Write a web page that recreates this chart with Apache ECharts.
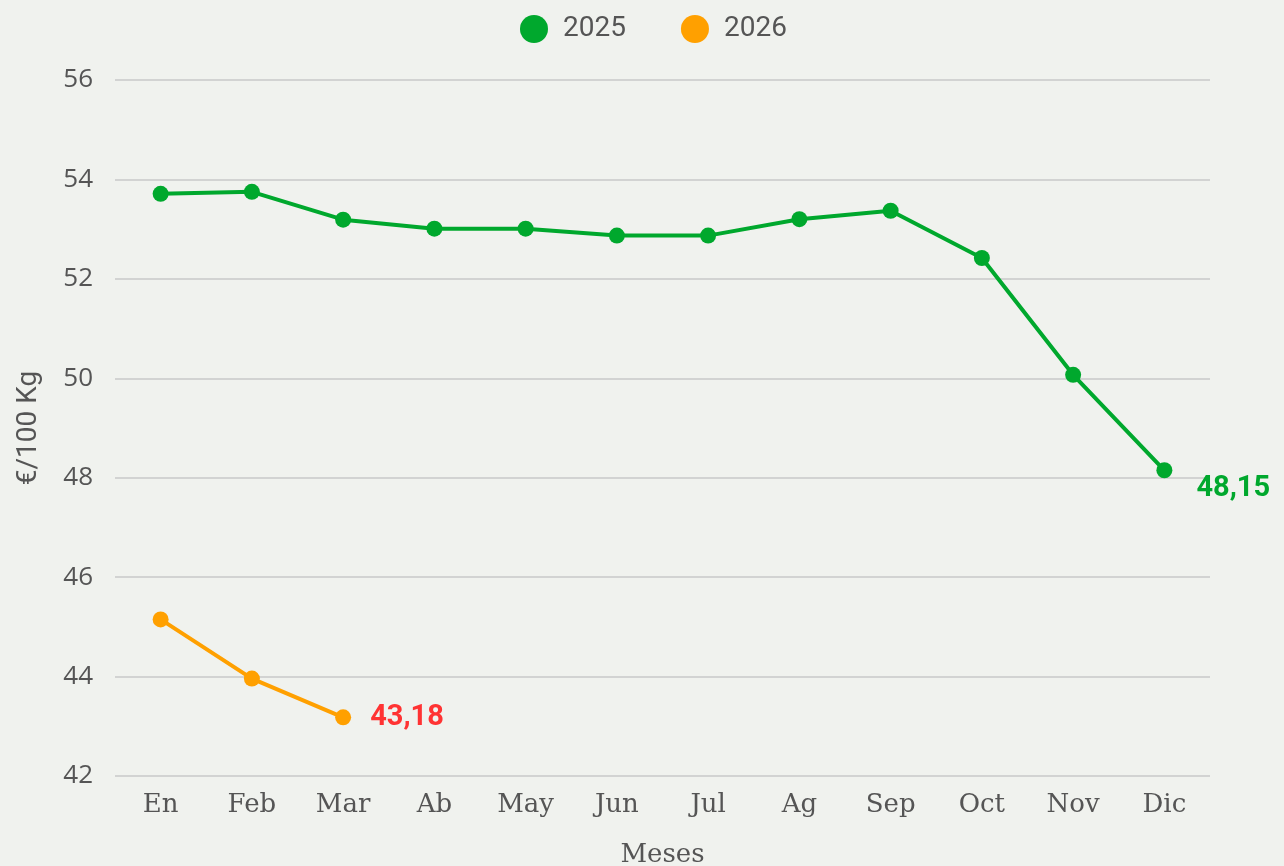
<!DOCTYPE html>
<html>
<head>
<meta charset="utf-8">
<script src="https://cdn.jsdelivr.net/npm/echarts@6/dist/echarts.min.js"></script>
<style>
    html, body { margin: 0; padding: 0; background: #f0f2ee; }
    #chart { width: 1284px; height: 866px; }
</style>
</head>
<body>
<div id="chart"></div>
<script>
// meses y precios (€/100 Kg)
const months = ['En', 'Feb', 'Mar', 'Ab', 'May', 'Jun', 'Jul', 'Ag', 'Sep', 'Oct', 'Nov', 'Dic']
const values2025 = [53.71, 53.75, 53.19, 53.01, 53.01, 52.87, 52.87, 53.20, 53.37, 52.42, 50.07, 48.15]
const values2026 = [45.15, 43.96, 43.18]
const yTicks = [42, 44, 46, 48, 50, 52, 54, 56]

const green = '#00a82d'
const orange = '#ffa000'
const slab = '"DejaVu Serif", serif'

const chart = echarts.init(document.getElementById('chart'))

// etiqueta solo en el ultimo punto de cada serie
function lastLabel(arr, color, distance, offset) {
    return arr.map((v, i) => i === arr.length - 1
        ? { value: v, label: { show: true, position: 'right', distance: distance, offset: offset, color: color,
            fontFamily: 'Roboto', fontWeight: 'bold', fontSize: 29,
            formatter: p => p.value.toFixed(2).replace('.', ',') } }
        : v)
}

chart.setOption({
    backgroundColor: '#f0f2ee',
    animation: false,
    legend: {
        top: 10,
        left: 515,
        itemWidth: 28,
        itemHeight: 28,
        itemGap: 55,
        icon: 'circle',
        textStyle: { fontFamily: 'Roboto', fontSize: 28, color: '#555', padding: [0, 0, 0, 10] },
        data: ['2025', '2026']
    },
    grid: { left: 115, right: 74, top: 80, bottom: 90, outerBoundsMode: 'none' },
    xAxis: {
        type: 'category',
        data: months,
        name: 'Meses',
        nameLocation: 'middle',
        nameGap: 66,
        nameTextStyle: { fontFamily: slab, fontSize: 26, color: '#555' },
        axisLine: { show: false },
        axisTick: { show: false },
        axisLabel: { fontFamily: slab, fontSize: 26, color: '#555', margin: 16 }
    },
    yAxis: {
        type: 'value',
        min: yTicks[0],
        max: yTicks[yTicks.length - 1],
        interval: 2,
        name: '€/100 Kg',
        nameLocation: 'middle',
        nameGap: 72,
        nameTextStyle: { fontFamily: 'Roboto', fontSize: 28, color: '#555' },
        axisLabel: { fontFamily: 'Open Sans', fontSize: 26, color: '#555', margin: 22 },
        splitLine: { lineStyle: { color: '#c8c8c8', width: 1.5 } }
    },
    series: [
        {
            name: '2025',
            type: 'line',
            data: lastLabel(values2025, green, 24, [0, 18]),
            color: green,
            symbol: 'circle',
            symbolSize: 16,
            lineStyle: { width: 4 }
        },
        {
            name: '2026',
            type: 'line',
            data: lastLabel(values2026, '#ff3333', 19, [0, 0]),
            color: orange,
            symbol: 'circle',
            symbolSize: 16,
            lineStyle: { width: 4 }
        }
    ]
})
</script>
</body>
</html>
